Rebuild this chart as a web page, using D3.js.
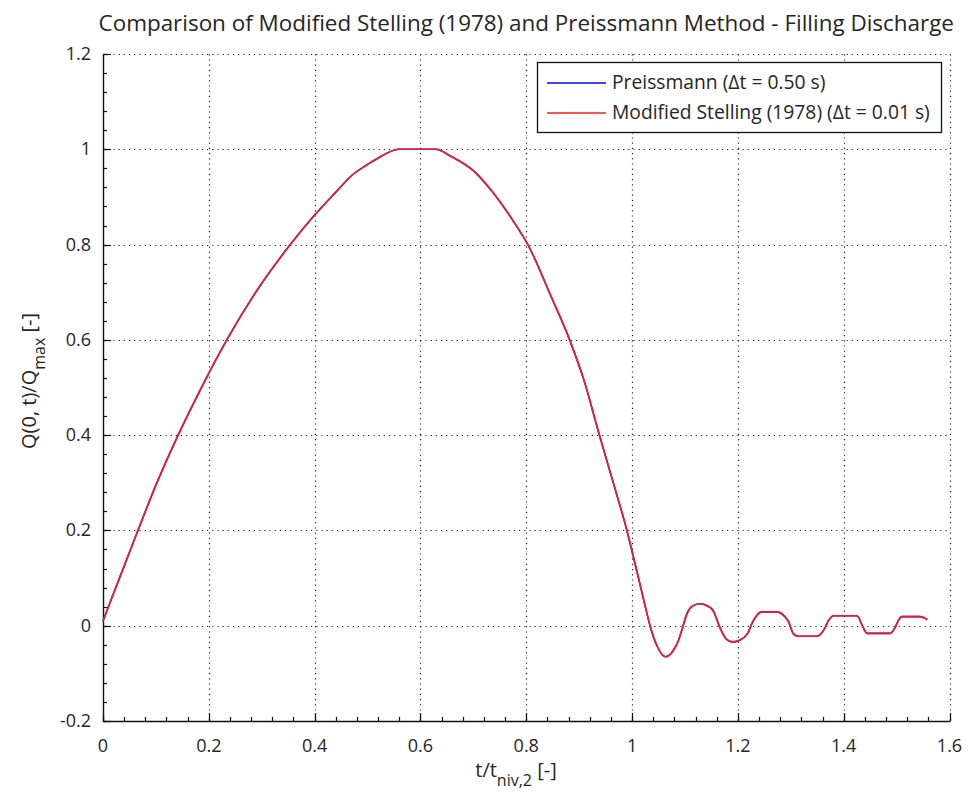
<!DOCTYPE html>
<html><head><meta charset="utf-8">
<script src="https://cdn.jsdelivr.net/npm/d3@7"></script>
<style>
body{margin:0;background:#fff}
text{font-family:"Open Sans","Noto Sans",sans-serif;fill:#262626}
</style>
</head><body>
<svg id="c" width="971" height="792"></svg>
<script>
// ---- data ----
const tValues = [0.000,0.020,0.040,0.066,0.100,0.142,0.187,0.234,0.290,0.354,0.400,0.440,0.471,0.500,0.525,0.560,0.629,0.658,0.702,0.740,0.778,0.803,0.847,0.882,0.910,0.937,0.964,0.990,1.010,1.025,1.034,1.047,1.063,1.078,1.088,1.096,1.104,1.114,1.128,1.142,1.154,1.166,1.178,1.190,1.202,1.218,1.229,1.245,1.273,1.295,1.305,1.314,1.349,1.365,1.371,1.381,1.425,1.437,1.444,1.488,1.497,1.503,1.510,1.544,1.558];
const qStelling = [0.010,0.068,0.125,0.200,0.295,0.400,0.502,0.600,0.702,0.800,0.862,0.910,0.946,0.968,0.985,1.000,1.000,0.985,0.953,0.905,0.845,0.800,0.691,0.600,0.512,0.405,0.302,0.201,0.110,0.040,0.000,-0.042,-0.065,-0.052,-0.030,-0.002,0.026,0.041,0.046,0.042,0.030,-0.004,-0.028,-0.034,-0.031,-0.017,0.010,0.029,0.029,0.010,-0.017,-0.022,-0.022,-0.004,0.010,0.021,0.021,-0.004,-0.016,-0.016,-0.004,0.010,0.019,0.019,0.013];
const qPreissmann = [0.010,0.068,0.125,0.200,0.295,0.400,0.502,0.600,0.702,0.800,0.862,0.910,0.946,0.968,0.985,1.000,1.000,0.985,0.953,0.905,0.845,0.800,0.691,0.600,0.512,0.405,0.302,0.201,0.110,0.040,0.000,-0.042,-0.065,-0.052,-0.030,-0.002,0.026,0.041,0.046,0.042,0.030,-0.004,-0.028,-0.034,-0.031,-0.017,0.010,0.029,0.029,0.010,-0.017,-0.022,-0.022,-0.004,0.010,0.021,0.021,-0.004,-0.016,-0.016,-0.004,0.010,0.019,0.019,0.013];
const seriesNames = ["Preissmann (\u0394t = 0.50 s)","Modified Stelling (1978) (\u0394t = 0.01 s)"];
const xTickValues = [0,0.2,0.4,0.6,0.8,1,1.2,1.4,1.6];
const xTickLabels = ["0","0.2","0.4","0.6","0.8","1","1.2","1.4","1.6"];
const yTickValues = [-0.2,0,0.2,0.4,0.6,0.8,1,1.2];
const yTickLabels = ["-0.2","0","0.2","0.4","0.6","0.8","1","1.2"];
const titleText = "Comparison of Modified Stelling (1978) and Preissmann Method - Filling Discharge";

// ---- layout ----
const L=103, R=949.5, T=54, B=721;
const svg=d3.select("#c");
const x=d3.scaleLinear().domain([0,1.6]).range([L,R]);
const y=d3.scaleLinear().domain([-0.2,1.2]).range([B,T]);

// grid
const grid=svg.append("g").attr("stroke","#222").attr("stroke-width",1.2).attr("stroke-dasharray","1.2,4");
grid.selectAll(".gx").data(xTickValues.slice(1)).join("line")
  .attr("x1",d=>Math.round(x(d))+0.5).attr("x2",d=>Math.round(x(d))+0.5).attr("y1",B).attr("y2",T);
grid.selectAll(".gy").data(yTickValues.slice(1)).join("line")
  .attr("y1",d=>Math.round(y(d))+0.5).attr("y2",d=>Math.round(y(d))+0.5).attr("x1",L).attr("x2",R);

// minor & major ticks (inward)
const xMinor=d3.range(0,1.6001,0.04), yMinor=d3.range(-0.2,1.2001,0.04);
const tk=svg.append("g").attr("stroke","#111").attr("stroke-width",1.2);
tk.selectAll(".mx").data(xMinor).join("line")
  .attr("x1",d=>Math.round(x(d))+0.5).attr("x2",d=>Math.round(x(d))+0.5).attr("y1",B).attr("y2",B-4);
tk.selectAll(".my").data(yMinor).join("line")
  .attr("y1",d=>Math.round(y(d))+0.5).attr("y2",d=>Math.round(y(d))+0.5).attr("x1",L).attr("x2",L+4);
tk.selectAll(".Mx").data(xTickValues).join("line")
  .attr("x1",d=>Math.round(x(d))+0.5).attr("x2",d=>Math.round(x(d))+0.5).attr("y1",B).attr("y2",B-8);
tk.selectAll(".My").data(yTickValues).join("line")
  .attr("y1",d=>Math.round(y(d))+0.5).attr("y2",d=>Math.round(y(d))+0.5).attr("x1",L).attr("x2",L+8);

// axes lines
svg.append("line").attr("x1",L).attr("x2",R+1).attr("y1",B+0.5).attr("y2",B+0.5).attr("stroke","#111").attr("stroke-width",1.4);
svg.append("line").attr("x1",L+0.5).attr("x2",L+0.5).attr("y1",T).attr("y2",B+1).attr("stroke","#111").attr("stroke-width",1.4);

// tick labels
svg.append("g").selectAll("text").data(xTickValues).join("text")
  .attr("x",d=>x(d)).attr("y",B+31).attr("text-anchor","middle").attr("font-size",18)
  .text((d,i)=>xTickLabels[i]);
svg.append("g").selectAll("text").data(yTickValues).join("text")
  .attr("x",L-12).attr("y",d=>y(d)+6).attr("text-anchor","end").attr("font-size",18)
  .text((d,i)=>yTickLabels[i]);

// lines
const pts=(qs)=>tValues.map((t,i)=>[t,qs[i]]);
const line=d3.line().x(d=>x(d[0])).y(d=>y(d[1])).curve(d3.curveMonotoneX);
svg.append("path").attr("d",line(pts(qPreissmann))).attr("fill","none").attr("stroke","#0000ff").attr("stroke-width",1.6);
svg.append("path").attr("d",line(pts(qStelling))).attr("fill","none").attr("stroke","#ff1a1a").attr("stroke-width",1.6);

// title
const title=svg.append("text").attr("x",(L+R)/2).attr("y",31).attr("text-anchor","middle").attr("font-size",20).text(titleText);
const tw=title.node().getComputedTextLength();
title.attr("font-size",20*856/tw);

// axis labels
const xl=svg.append("text").attr("x",516).attr("y",777).attr("text-anchor","middle").attr("font-size",20);
xl.append("tspan").text("t/t");
xl.append("tspan").attr("font-size",16).attr("dy",9).text("niv,2");
xl.append("tspan").attr("dy",-9).text(" [-]");
const yl=svg.append("text").attr("transform","translate(36,381) rotate(-90)").attr("text-anchor","middle").attr("font-size",20);
yl.append("tspan").text("Q(0, t)/Q");
yl.append("tspan").attr("font-size",16).attr("dy",9).text("max");
yl.append("tspan").attr("dy",-9).text(" [-]");

// legend
const lg=svg.append("g");
lg.append("rect").attr("x",537.5).attr("y",62.5).attr("width",404).attr("height",70).attr("fill","#fff").attr("stroke","#111").attr("stroke-width",1.3);
const colors=["#0000ff","#ff1a1a"];
const lts=[];
seriesNames.forEach((n,i)=>{
  const yy=83+i*30;
  lg.append("line").attr("x1",547).attr("x2",606).attr("y1",yy).attr("y2",yy).attr("stroke",colors[i]).attr("stroke-width",1.5);
  lts.push(lg.append("text").attr("x",612).attr("y",yy+6).attr("font-size",16.5).text(n));
});
const lw=lts[1].node().getComputedTextLength();
lts.forEach(t=>t.attr("font-size",16.5*318/lw));
</script>
</body></html>
